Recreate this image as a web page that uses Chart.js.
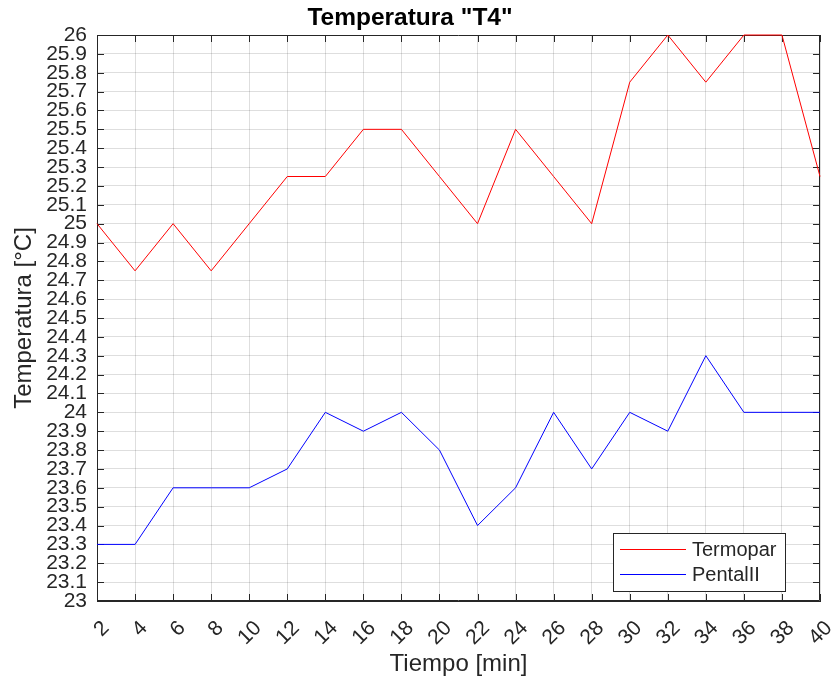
<!DOCTYPE html>
<html>
<head>
<meta charset="utf-8">
<script src="https://cdn.jsdelivr.net/npm/chart.js@4/dist/chart.umd.min.js"></script>
<style>
  html, body { margin: 0; padding: 0; background: #ffffff; }
  #wrap { width: 834px; height: 682px; }
</style>
</head>
<body>
<div id="wrap"><canvas id="c" width="834" height="682"></canvas></div>
<script>
// Time in minutes
const tiempo = [2, 4, 6, 8, 10, 12, 14, 16, 18, 20, 22, 24, 26, 28, 30, 32, 34, 36, 38, 40];
// Thermocouple readings [°C]
const termopar = [25.0, 24.75, 25.0, 24.75, 25.0, 25.25, 25.25, 25.5, 25.5, 25.25,
                  25.0, 25.5, 25.25, 25.0, 25.75, 26.0, 25.75, 26.0, 26.0, 25.25];
// PentaLL sensor readings [°C]
const pentalll = [23.3, 23.3, 23.6, 23.6, 23.6, 23.7, 24.0, 23.9, 24.0, 23.8,
                  23.4, 23.6, 24.0, 23.7, 24.0, 23.9, 24.3, 24.0, 24.0, 24.0];
const seriesNames = ['Termopar', 'PentalII'];
const yRange = { min: 23, max: 26, step: 0.1 };
const xRange = { min: 2, max: 40, step: 2 };

const AXIS = '#262626';
const GRID = 'rgba(0,0,0,0.13)';
const FONT = '"Liberation Sans", Arial, sans-serif';

// Box outline plus inward tick marks on all four sides (drawn under the lines)
const boxPlugin = {
  id: 'boxTicks',
  beforeDatasetsDraw(chart) {
    const { ctx, chartArea: a, scales: { x, y } } = chart;
    const len = 7;
    ctx.save();
    ctx.strokeStyle = AXIS;
    ctx.lineWidth = 1;
    ctx.beginPath();
    ctx.rect(a.left + 0.5, a.top + 0.5, a.right - a.left - 1, a.bottom - a.top - 1);
    x.ticks.forEach(t => {
      const px = Math.round(x.getPixelForValue(t.value)) + 0.5;
      ctx.moveTo(px, a.bottom); ctx.lineTo(px, a.bottom - len);
      ctx.moveTo(px, a.top); ctx.lineTo(px, a.top + len);
    });
    y.ticks.forEach(t => {
      const py = Math.round(y.getPixelForValue(t.value)) + 0.5;
      ctx.moveTo(a.left, py); ctx.lineTo(a.left + len, py);
      ctx.moveTo(a.right, py); ctx.lineTo(a.right - len, py);
    });
    ctx.stroke();
    ctx.restore();
  }
};

// Legend box in the lower-right corner of the plot
const legendPlugin = {
  id: 'innerLegend',
  afterDraw(chart) {
    const { ctx, chartArea: a } = chart;
    const w = 172, h = 58;
    const bx = a.right - 35 - w, by = a.bottom - 10 - h;
    ctx.save();
    ctx.fillStyle = '#ffffff';
    ctx.fillRect(bx, by, w, h);
    ctx.strokeStyle = AXIS;
    ctx.lineWidth = 1;
    ctx.strokeRect(bx + 0.5, by + 0.5, w, h);
    ctx.font = '20px ' + FONT;
    ctx.textBaseline = 'middle';
    chart.data.datasets.forEach((ds, i) => {
      const ly = by + 16 + i * 25;
      ctx.strokeStyle = ds.borderColor;
      ctx.beginPath();
      ctx.moveTo(bx + 7, ly + 0.5);
      ctx.lineTo(bx + 73, ly + 0.5);
      ctx.stroke();
      ctx.fillStyle = AXIS;
      ctx.fillText(ds.label, bx + 79, ly + 1);
    });
    ctx.restore();
  }
};

new Chart(document.getElementById('c'), {
  type: 'line',
  data: {
    datasets: [
      { label: seriesNames[0], data: tiempo.map((t, i) => ({ x: t, y: termopar[i] })),
        borderColor: '#ff0000', borderWidth: 1, pointRadius: 0, tension: 0, fill: false, clip: false },
      { label: seriesNames[1], data: tiempo.map((t, i) => ({ x: t, y: pentalll[i] })),
        borderColor: '#0000ff', borderWidth: 1, pointRadius: 0, tension: 0, fill: false, clip: false }
    ]
  },
  options: {
    responsive: false,
    animation: false,
    layout: { padding: { left: 0, right: 14, top: 0, bottom: 0 } },
    plugins: {
      legend: { display: false },
      tooltip: { enabled: false },
      title: {
        display: true,
        text: 'Temperatura "T4"',
        color: '#000000',
        font: { family: FONT, size: 24.5, weight: 'bold' },
        padding: { top: 4, bottom: 1.6 }
      }
    },
    scales: {
      x: {
        type: 'linear',
        min: xRange.min, max: xRange.max,
        afterFit(s) { s.height = 81; s.paddingLeft = 0; s.paddingRight = 0; },
        border: { display: true, color: AXIS, width: 1 },
        grid: { color: GRID, drawTicks: false },
        ticks: {
          stepSize: xRange.step,
          autoSkip: false,
          maxRotation: 45, minRotation: 45,
          labelOffset: 9,
          padding: 15,
          color: AXIS,
          font: { family: FONT, size: 21 }
        },
        title: {
          display: true,
          text: 'Tiempo [min]',
          color: AXIS,
          font: { family: FONT, size: 24 },
          padding: { top: 0, bottom: 3 }
        }
      },
      y: {
        type: 'linear',
        min: yRange.min, max: yRange.max,
        afterFit(s) { s.width = 97; s.paddingTop = 0; s.paddingBottom = 0; },
        border: { display: true, color: AXIS, width: 1 },
        grid: { color: GRID, drawTicks: false },
        ticks: {
          stepSize: yRange.step,
          autoSkip: false,
          padding: 10,
          color: AXIS,
          font: { family: FONT, size: 21 },
          callback: v => String(Math.round(v * 10) / 10)
        },
        title: {
          display: true,
          text: 'Temperatura [°C]',
          color: AXIS,
          font: { family: FONT, size: 24 },
          padding: { top: 10, bottom: 0 }
        }
      }
    }
  },
  plugins: [boxPlugin, legendPlugin]
});
</script>
</body>
</html>
